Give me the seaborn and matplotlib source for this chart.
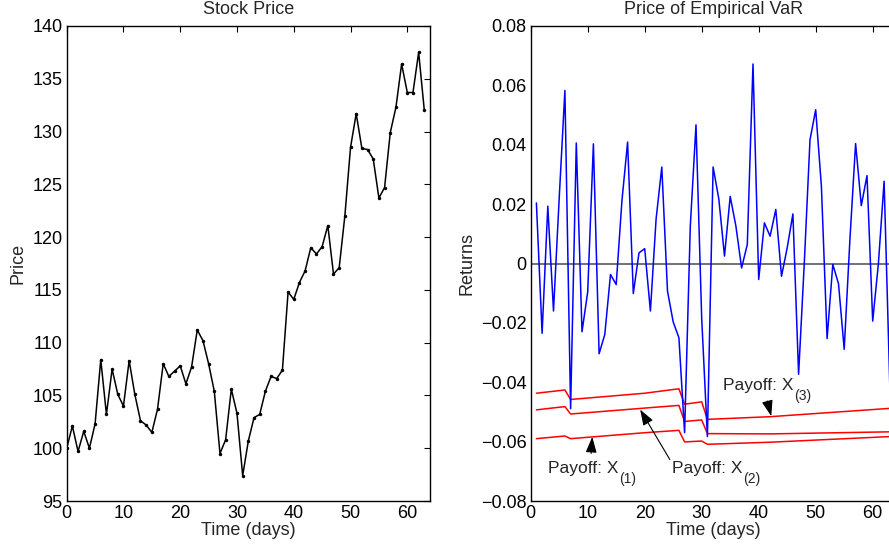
import numpy as np
import pandas as pd
import matplotlib
matplotlib.use("Agg")
import matplotlib.pyplot as plt
import seaborn as sns

# ---------------- data ----------------
days = list(range(0, 64))
price = [100.0, 102.1, 99.7, 101.6, 100.0, 102.3, 108.4, 103.2, 107.5, 105.1,
         104.0, 108.3, 105.1, 102.6, 102.2, 101.5, 103.7, 108.0, 106.8, 107.3,
         107.8, 106.1, 107.7, 111.2, 110.2, 108.0, 105.4, 99.5, 100.8, 105.6,
         103.3, 97.4, 100.7, 102.9, 103.2, 105.4, 106.8, 106.6, 107.4, 114.8,
         114.1, 115.7, 116.8, 119.0, 118.4, 119.1, 121.1, 116.5, 117.1, 122.0,
         128.5, 131.7, 128.4, 128.3, 127.4, 123.7, 124.7, 129.9, 132.3, 136.4,
         133.7, 133.7, 137.5, 132.0]

ret_days = list(range(1, 64))
returns = [0.0204, -0.0235, 0.0193, -0.0160, 0.022, 0.0583, -0.0489, 0.0406, -0.0230, -0.0096,
           0.0403, -0.0304, -0.0239, -0.0037, -0.0071, 0.021, 0.0409, -0.0101, 0.0036, 0.0050,
           -0.0160, 0.015, 0.0325, -0.0093, -0.0197, -0.0250, -0.0570, 0.0126, 0.0467, -0.0185,
           -0.0583, 0.0325, 0.0218, 0.0025, 0.0226, 0.0126, -0.0015, 0.0064, 0.0672, -0.0054,
           0.0137, 0.0092, 0.0182, -0.0043, 0.0053, 0.0167, -0.0373, 0.0002, 0.0417, 0.0518,
           0.026, -0.0253, -0.0003, -0.0068, -0.0289, 0.008, 0.0404, 0.0195, 0.0296, -0.0194,
           0.0, 0.0277, -0.041]

var_days = [1, 6, 7, 20, 26, 27, 30, 31, 42, 63]
payoff_x3 = [-0.0437, -0.0426, -0.0458, -0.0437, -0.0422, -0.0474, -0.0466, -0.0525, -0.0516, -0.0488]
payoff_x2 = [-0.0493, -0.0482, -0.0507, -0.0487, -0.0478, -0.0532, -0.0527, -0.0573, -0.0574, -0.0567]
payoff_x1 = [-0.0590, -0.0581, -0.0590, -0.0570, -0.0562, -0.0601, -0.0598, -0.0609, -0.0602, -0.0583]

left_yticks = [95, 100, 105, 110, 115, 120, 125, 130, 135, 140]
right_yticks = [-0.08, -0.06, -0.04, -0.02, 0, 0.02, 0.04, 0.06, 0.08]
right_yticklabels = ["\u22120.08", "\u22120.06", "\u22120.04", "\u22120.02", "0",
                     "0.02", "0.04", "0.06", "0.08"]
xticks = [0, 10, 20, 30, 40, 50, 60]

# ---------------- style ----------------
sns.set_theme(style="white")
plt.rcParams['font.family'] = ['Liberation Sans', 'DejaVu Sans']
FS = 13
FS_ANN = 12.5

fig = plt.figure(figsize=(8.89, 5.5), dpi=100)
W, H = 889, 550
ax1 = fig.add_axes([66.7 / W, 1 - 501 / H, (430 - 66.7) / W, (501 - 26) / H])
ax2 = fig.add_axes([530.7 / W, 1 - 501 / H, 64 * 5.7 / W, (501 - 26) / H])

def style_axes(ax):
    for s in ax.spines.values():
        s.set_visible(True)
        s.set_color('black')
        s.set_linewidth(1.0)
    ax.tick_params(direction='in', top=True, right=True, length=4, width=0.8,
                   labelsize=FS, colors='black', pad=3)
    ax.set_facecolor('white')

# ---------------- left: stock price ----------------
df_p = pd.DataFrame({'day': days, 'price': price})
sns.lineplot(data=df_p, x='day', y='price', ax=ax1, color='black', lw=1.1,
             marker='o', markersize=2.5, markeredgewidth=0, estimator=None)
ax1.set_xlim(0, 64)
ax1.set_ylim(95, 140)
ax1.set_xticks(xticks)
ax1.set_yticks(left_yticks)
ax1.set_xlabel('Time (days)', fontsize=FS, labelpad=0)
ax1.set_ylabel('Price', fontsize=FS, labelpad=4)
ax1.set_title('Stock Price', fontsize=FS, pad=9)
style_axes(ax1)

# ---------------- right: returns + VaR ----------------
ax2.axhline(0, color='#666666', lw=1.3, zorder=1)
df_r = pd.DataFrame({'day': ret_days, 'ret': returns})
sns.lineplot(data=df_r, x='day', y='ret', ax=ax2, color='#0000ff', lw=1.1, estimator=None, zorder=3)
for series in (payoff_x3, payoff_x2, payoff_x1):
    df_v = pd.DataFrame({'day': var_days, 'v': series})
    sns.lineplot(data=df_v, x='day', y='v', ax=ax2, color='#ff0000', lw=1.1, estimator=None, zorder=2)

ax2.set_xlim(0, 64)
ax2.set_ylim(-0.08, 0.08)
ax2.set_xticks(xticks)
ax2.set_yticks(right_yticks)
ax2.set_yticklabels(right_yticklabels)
ax2.set_xlabel('Time (days)', fontsize=FS, labelpad=0)
ax2.set_ylabel('Returns', fontsize=FS, labelpad=4)
ax2.set_title('Price of Empirical VaR', fontsize=FS, pad=9)
style_axes(ax2)

arrow = dict(arrowstyle='-|>,head_length=0.8,head_width=0.28', color='black', lw=0.8,
             shrinkA=0, shrinkB=0)

def payoff_label(x, y, sub):
    t = ax2.text(x, y, 'Payoff: X', fontsize=FS_ANN, ha='left', va='baseline')
    ax2.annotate(sub, xy=(1, 0), xycoords=t, xytext=(0.3, 3.0), textcoords='offset points',
                 fontsize=FS_ANN * 0.8, ha='left', va='top')

ax2.annotate('', xy=(10.8, -0.0584), xytext=(10.6, -0.0640), arrowprops=arrow)
payoff_label(3.0, -0.0705, '(1)')
ax2.annotate('', xy=(19.2, -0.0492), xytext=(24.4, -0.0660), arrowprops=arrow)
payoff_label(24.8, -0.0705, '(2)')
ax2.annotate('', xy=(42.2, -0.0514), xytext=(41.5, -0.0463), arrowprops=arrow)
payoff_label(33.8, -0.0426, '(3)')

fig.savefig('out.png', dpi=100)
